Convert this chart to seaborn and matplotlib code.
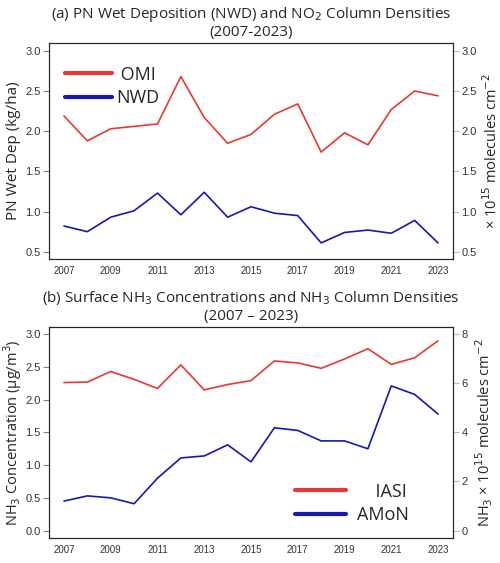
import matplotlib
matplotlib.use("Agg")
import matplotlib.pyplot as plt
import numpy as np
import pandas as pd
import seaborn as sns
from matplotlib.lines import Line2D

years = list(range(2007, 2024))

# panel a: NO2 column (OMI, right axis) and wet deposition (NWD, left axis)
omi = [2.19, 1.88, 2.03, 2.06, 2.09, 2.68, 2.17, 1.85, 1.96, 2.21, 2.34, 1.74, 1.98, 1.83, 2.27, 2.50, 2.44]
nwd = [0.82, 0.75, 0.93, 1.01, 1.23, 0.96, 1.24, 0.93, 1.06, 0.98, 0.95, 0.61, 0.74, 0.77, 0.73, 0.89, 0.61]

# panel b: NH3 column (IASI, right axis) and surface NH3 (AMoN, left axis)
iasi = [6.03, 6.05, 6.48, 6.16, 5.79, 6.75, 5.73, 5.95, 6.11, 6.91, 6.83, 6.61, 6.99, 7.41, 6.77, 7.04, 7.73]
amon = [0.45, 0.53, 0.50, 0.41, 0.80, 1.11, 1.14, 1.31, 1.05, 1.57, 1.53, 1.37, 1.37, 1.25, 2.21, 2.08, 1.78]

df = pd.DataFrame({"year": years, "OMI": omi, "NWD": nwd, "IASI": iasi, "AMoN": amon})

sns.set_style("white")
plt.rcParams["font.family"] = ["Open Sans", "DejaVu Sans"]

RED = "#e53935"
BLUE = "#1818b0"
SPINE = "#9a9a9a"
TICK = "#333333"

fig = plt.figure(figsize=(5.0, 5.63), dpi=100)
ax1 = fig.add_axes([0.098, 0.540, 0.808, 0.384])
ax2 = fig.add_axes([0.098, 0.044, 0.808, 0.376])


def style(ax, right):
    for s in ax.spines.values():
        s.set_color(SPINE)
        s.set_linewidth(0.9)
    ax.set_xlim(2007 - 0.64, 2023 + 0.64)
    ax.set_xticks(years)
    ax.set_xticklabels([str(y) if (y - 2007) % 2 == 0 else "" for y in years],
                       fontsize=7, color=TICK, family=["Liberation Sans"])
    ax.tick_params(axis="x", length=3, color=SPINE, pad=2)
    ax.tick_params(axis="y", length=4, color="#8080a0", labelsize=8, labelcolor=TICK, pad=2)
    for lab in ax.get_yticklabels():
        lab.set_family(["Liberation Sans"])
    right.tick_params(axis="y", length=4, color="#e0a8a8", labelsize=8, labelcolor=TICK, pad=2)
    for lab in right.get_yticklabels():
        lab.set_family(["Liberation Sans"])
    ax.set_xlabel("")


# ---- panel a
ax1r = ax1.twinx()
sns.lineplot(data=df, x="year", y="NWD", ax=ax1, color=BLUE, lw=1.2)
sns.lineplot(data=df, x="year", y="OMI", ax=ax1r, color=RED, lw=1.2)
ax1.set_ylim(0.41, 3.10)
ax1r.set_ylim(0.41, 3.10)
ax1.set_yticks([0.5, 1.0, 1.5, 2.0, 2.5, 3.0])
ax1r.set_yticks([0.5, 1.0, 1.5, 2.0, 2.5, 3.0])
ax1.set_ylabel("PN Wet Dep (kg/ha)", fontsize=11, labelpad=3)
ax1r.set_ylabel(r"× 10$^{15}$ molecules cm$^{-2}$", fontsize=10.5, labelpad=4)
style(ax1, ax1r)
ax1.set_title("(a) PN Wet Deposition (NWD) and NO$_2$ Column Densities\n(2007-2023)",
              fontsize=11, pad=5, linespacing=1.1)
h = [Line2D([], [], color=RED, lw=3), Line2D([], [], color=BLUE, lw=3)]
ax1r.legend(h, [" OMI", "NWD"], loc="upper left", frameon=False, fontsize=13,
            handlelength=2.6, handletextpad=0.2, labelspacing=0.3,
            bbox_to_anchor=(0.0, 0.97))

# ---- panel b
ax2r = ax2.twinx()
sns.lineplot(data=df, x="year", y="AMoN", ax=ax2, color=BLUE, lw=1.2)
sns.lineplot(data=df, x="year", y="IASI", ax=ax2r, color=RED, lw=1.2)
ax2.set_ylim(-0.117, 3.117)
ax2r.set_ylim(-0.117 * 8 / 3, 3.117 * 8 / 3)
ax2.set_yticks([0.0, 0.5, 1.0, 1.5, 2.0, 2.5, 3.0])
ax2r.set_yticks([0, 2, 4, 6, 8])
ax2.set_ylabel(r"NH$_3$ Concentration (µg/m$^3$)", fontsize=10.5, labelpad=1)
ax2r.set_ylabel(r"NH$_3$ × 10$^{15}$ molecules cm$^{-2}$", fontsize=10.5, labelpad=4)
style(ax2, ax2r)
ax2.set_title("(b) Surface NH$_3$ Concentrations and NH$_3$ Column Densities\n(2007 – 2023)",
              fontsize=11, pad=5, linespacing=1.1)
ax2r.legend(h, ["    IASI", "AMoN"], loc="lower right", frameon=False, fontsize=13,
            handlelength=2.8, handletextpad=0.6, labelspacing=0.3,
            bbox_to_anchor=(0.93, -0.01))

fig.savefig("out.png", dpi=100)
